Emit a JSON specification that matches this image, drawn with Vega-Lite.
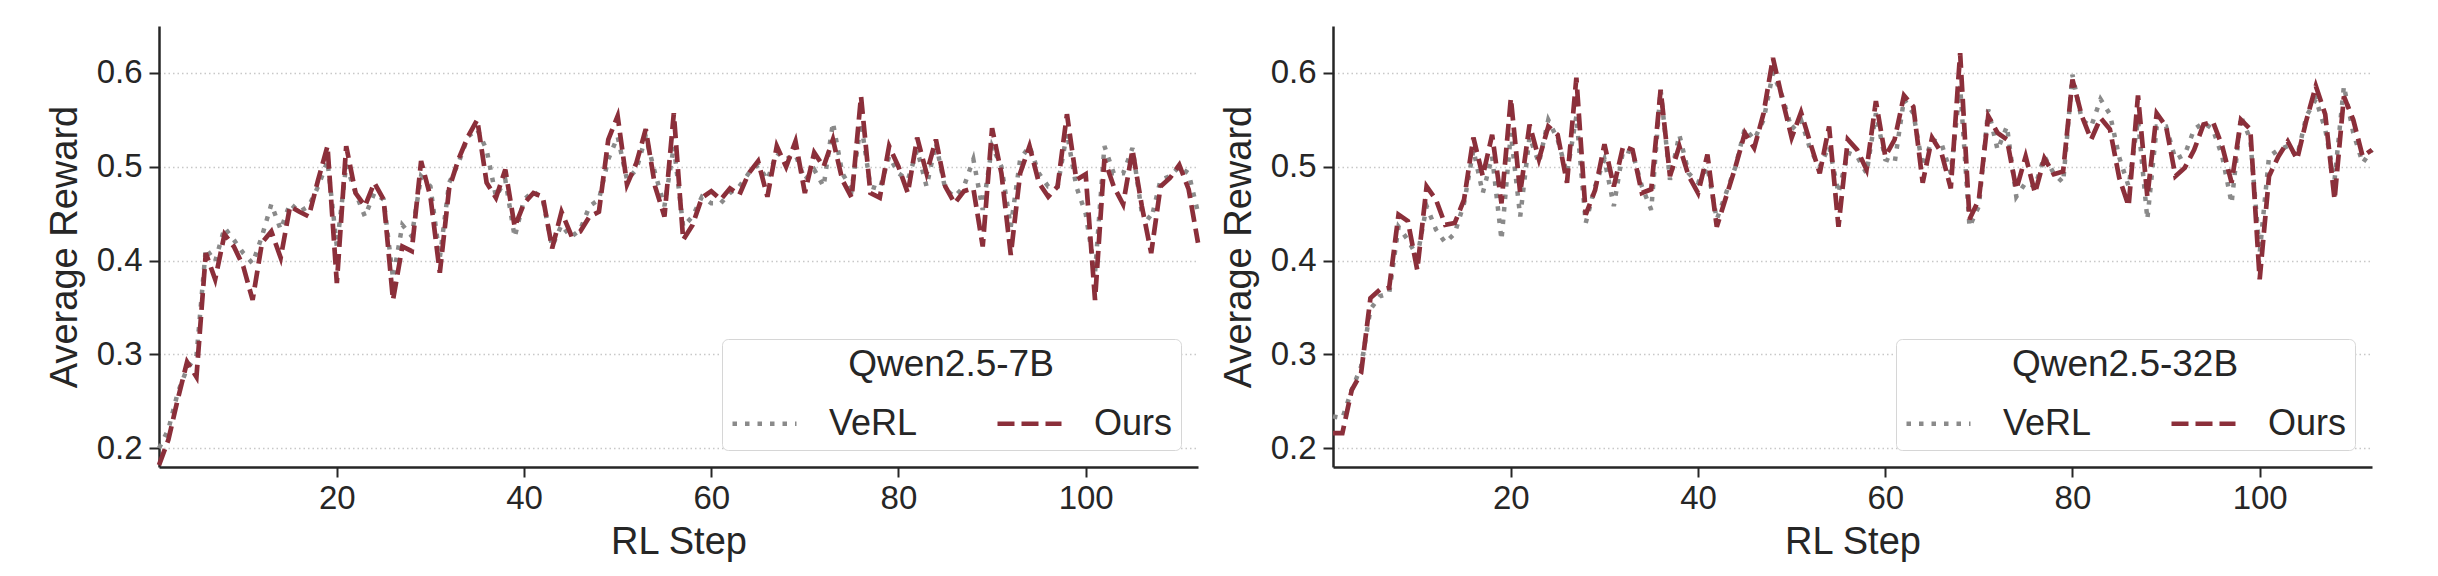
{
  "$schema": "https://vega.github.io/schema/vega-lite/v6.json",
  "background": "white",
  "padding": {"left": 46, "top": 26, "right": 5, "bottom": 5},
  "config": {
    "font": "Liberation Sans",
    "view": {"stroke": null},
    "axis": {
      "domainColor": "#262626", "domainWidth": 2.5,
      "tickColor": "#262626", "tickWidth": 2, "tickSize": 10,
      "labelFont": "Liberation Sans", "labelFontSize": 33, "labelColor": "#262626",
      "titleFont": "Liberation Sans", "titleFontSize": 38, "titleFontWeight": "normal", "titleColor": "#262626",
      "gridColor": "#c8c8c8", "gridDash": [1.5, 3], "gridWidth": 1.3
    },
    "axisY": {"titlePadding": 12, "labelPadding": 7},
    "axisX": {"titlePadding": 8, "labelPadding": 5},
    "legend": {
      "orient": "bottom-right", "offset": 17, "direction": "horizontal", "columns": 2,
      "titleFont": "Liberation Sans", "titleFontSize": 37, "titleFontWeight": "normal", "titleColor": "#262626",
      "titleAnchor": "middle", "titlePadding": 5, "titleLimit": 1000,
      "labelFont": "Liberation Sans", "labelFontSize": 36, "labelColor": "#262626", "labelOffset": 30,
      "symbolType": "stroke", "symbolSize": 4096, "symbolStrokeWidth": 4.5,
      "columnPadding": 70, "padding": 8,
      "strokeColor": "#d6d6d6", "fillColor": "white", "cornerRadius": 6
    }
  },
  "datasets": {
    "qwen7b": [
      {"step":1,"method":"VeRL","reward":0.2},{"step":2,"method":"VeRL","reward":0.22},{"step":3,"method":"VeRL","reward":0.259},{"step":4,"method":"VeRL","reward":0.285},{"step":5,"method":"VeRL","reward":0.298},{"step":6,"method":"VeRL","reward":0.413},{"step":7,"method":"VeRL","reward":0.399},{"step":8,"method":"VeRL","reward":0.435},{"step":9,"method":"VeRL","reward":0.422},{"step":10,"method":"VeRL","reward":0.408},
      {"step":11,"method":"VeRL","reward":0.397},{"step":12,"method":"VeRL","reward":0.426},{"step":13,"method":"VeRL","reward":0.46},{"step":14,"method":"VeRL","reward":0.433},{"step":15,"method":"VeRL","reward":0.461},{"step":16,"method":"VeRL","reward":0.452},{"step":17,"method":"VeRL","reward":0.458},{"step":18,"method":"VeRL","reward":0.479},{"step":19,"method":"VeRL","reward":0.506},{"step":20,"method":"VeRL","reward":0.415},
      {"step":21,"method":"VeRL","reward":0.502},{"step":22,"method":"VeRL","reward":0.472},{"step":23,"method":"VeRL","reward":0.447},{"step":24,"method":"VeRL","reward":0.472},{"step":25,"method":"VeRL","reward":0.465},{"step":26,"method":"VeRL","reward":0.381},{"step":27,"method":"VeRL","reward":0.438},{"step":28,"method":"VeRL","reward":0.426},{"step":29,"method":"VeRL","reward":0.49},{"step":30,"method":"VeRL","reward":0.479},
      {"step":31,"method":"VeRL","reward":0.403},{"step":32,"method":"VeRL","reward":0.483},{"step":33,"method":"VeRL","reward":0.504},{"step":34,"method":"VeRL","reward":0.532},{"step":35,"method":"VeRL","reward":0.54},{"step":36,"method":"VeRL","reward":0.518},{"step":37,"method":"VeRL","reward":0.468},{"step":38,"method":"VeRL","reward":0.486},{"step":39,"method":"VeRL","reward":0.425},{"step":40,"method":"VeRL","reward":0.465},
      {"step":41,"method":"VeRL","reward":0.474},{"step":42,"method":"VeRL","reward":0.465},{"step":43,"method":"VeRL","reward":0.415},{"step":44,"method":"VeRL","reward":0.438},{"step":45,"method":"VeRL","reward":0.425},{"step":46,"method":"VeRL","reward":0.433},{"step":47,"method":"VeRL","reward":0.458},{"step":48,"method":"VeRL","reward":0.465},{"step":49,"method":"VeRL","reward":0.508},{"step":50,"method":"VeRL","reward":0.532},
      {"step":51,"method":"VeRL","reward":0.486},{"step":52,"method":"VeRL","reward":0.497},{"step":53,"method":"VeRL","reward":0.532},{"step":54,"method":"VeRL","reward":0.493},{"step":55,"method":"VeRL","reward":0.458},{"step":56,"method":"VeRL","reward":0.522},{"step":57,"method":"VeRL","reward":0.436},{"step":58,"method":"VeRL","reward":0.447},{"step":59,"method":"VeRL","reward":0.468},{"step":60,"method":"VeRL","reward":0.461},
      {"step":61,"method":"VeRL","reward":0.461},{"step":62,"method":"VeRL","reward":0.472},{"step":63,"method":"VeRL","reward":0.479},{"step":64,"method":"VeRL","reward":0.493},{"step":65,"method":"VeRL","reward":0.502},{"step":66,"method":"VeRL","reward":0.486},{"step":67,"method":"VeRL","reward":0.515},{"step":68,"method":"VeRL","reward":0.508},{"step":69,"method":"VeRL","reward":0.513},{"step":70,"method":"VeRL","reward":0.486},
      {"step":71,"method":"VeRL","reward":0.497},{"step":72,"method":"VeRL","reward":0.479},{"step":73,"method":"VeRL","reward":0.547},{"step":74,"method":"VeRL","reward":0.493},{"step":75,"method":"VeRL","reward":0.476},{"step":76,"method":"VeRL","reward":0.547},{"step":77,"method":"VeRL","reward":0.479},{"step":78,"method":"VeRL","reward":0.476},{"step":79,"method":"VeRL","reward":0.511},{"step":80,"method":"VeRL","reward":0.493},
      {"step":81,"method":"VeRL","reward":0.486},{"step":82,"method":"VeRL","reward":0.518},{"step":83,"method":"VeRL","reward":0.479},{"step":84,"method":"VeRL","reward":0.525},{"step":85,"method":"VeRL","reward":0.476},{"step":86,"method":"VeRL","reward":0.468},{"step":87,"method":"VeRL","reward":0.479},{"step":88,"method":"VeRL","reward":0.508},{"step":89,"method":"VeRL","reward":0.454},{"step":90,"method":"VeRL","reward":0.522},
      {"step":91,"method":"VeRL","reward":0.5},{"step":92,"method":"VeRL","reward":0.436},{"step":93,"method":"VeRL","reward":0.508},{"step":94,"method":"VeRL","reward":0.522},{"step":95,"method":"VeRL","reward":0.493},{"step":96,"method":"VeRL","reward":0.479},{"step":97,"method":"VeRL","reward":0.479},{"step":98,"method":"VeRL","reward":0.536},{"step":99,"method":"VeRL","reward":0.479},{"step":100,"method":"VeRL","reward":0.45},
      {"step":101,"method":"VeRL","reward":0.387},{"step":102,"method":"VeRL","reward":0.522},{"step":103,"method":"VeRL","reward":0.493},{"step":104,"method":"VeRL","reward":0.493},{"step":105,"method":"VeRL","reward":0.52},{"step":106,"method":"VeRL","reward":0.451},{"step":107,"method":"VeRL","reward":0.444},{"step":108,"method":"VeRL","reward":0.486},{"step":109,"method":"VeRL","reward":0.49},{"step":110,"method":"VeRL","reward":0.5},
      {"step":111,"method":"VeRL","reward":0.493},{"step":112,"method":"VeRL","reward":0.451},
      {"step":1,"method":"Ours","reward":0.182},{"step":2,"method":"Ours","reward":0.209},{"step":3,"method":"Ours","reward":0.252},{"step":4,"method":"Ours","reward":0.292},{"step":5,"method":"Ours","reward":0.276},{"step":6,"method":"Ours","reward":0.408},{"step":7,"method":"Ours","reward":0.38},{"step":8,"method":"Ours","reward":0.428},{"step":9,"method":"Ours","reward":0.415},{"step":10,"method":"Ours","reward":0.394},
      {"step":11,"method":"Ours","reward":0.358},{"step":12,"method":"Ours","reward":0.419},{"step":13,"method":"Ours","reward":0.431},{"step":14,"method":"Ours","reward":0.403},{"step":15,"method":"Ours","reward":0.458},{"step":16,"method":"Ours","reward":0.452},{"step":17,"method":"Ours","reward":0.447},{"step":18,"method":"Ours","reward":0.486},{"step":19,"method":"Ours","reward":0.522},{"step":20,"method":"Ours","reward":0.376},
      {"step":21,"method":"Ours","reward":0.522},{"step":22,"method":"Ours","reward":0.472},{"step":23,"method":"Ours","reward":0.458},{"step":24,"method":"Ours","reward":0.483},{"step":25,"method":"Ours","reward":0.465},{"step":26,"method":"Ours","reward":0.358},{"step":27,"method":"Ours","reward":0.415},{"step":28,"method":"Ours","reward":0.41},{"step":29,"method":"Ours","reward":0.506},{"step":30,"method":"Ours","reward":0.468},
      {"step":31,"method":"Ours","reward":0.387},{"step":32,"method":"Ours","reward":0.477},{"step":33,"method":"Ours","reward":0.508},{"step":34,"method":"Ours","reward":0.532},{"step":35,"method":"Ours","reward":0.55},{"step":36,"method":"Ours","reward":0.483},{"step":37,"method":"Ours","reward":0.467},{"step":38,"method":"Ours","reward":0.497},{"step":39,"method":"Ours","reward":0.436},{"step":40,"method":"Ours","reward":0.461},
      {"step":41,"method":"Ours","reward":0.472},{"step":42,"method":"Ours","reward":0.468},{"step":43,"method":"Ours","reward":0.413},{"step":44,"method":"Ours","reward":0.452},{"step":45,"method":"Ours","reward":0.428},{"step":46,"method":"Ours","reward":0.431},{"step":47,"method":"Ours","reward":0.447},{"step":48,"method":"Ours","reward":0.452},{"step":49,"method":"Ours","reward":0.529},{"step":50,"method":"Ours","reward":0.554},
      {"step":51,"method":"Ours","reward":0.481},{"step":52,"method":"Ours","reward":0.504},{"step":53,"method":"Ours","reward":0.54},{"step":54,"method":"Ours","reward":0.479},{"step":55,"method":"Ours","reward":0.447},{"step":56,"method":"Ours","reward":0.557},{"step":57,"method":"Ours","reward":0.422},{"step":58,"method":"Ours","reward":0.438},{"step":59,"method":"Ours","reward":0.467},{"step":60,"method":"Ours","reward":0.474},
      {"step":61,"method":"Ours","reward":0.465},{"step":62,"method":"Ours","reward":0.477},{"step":63,"method":"Ours","reward":0.47},{"step":64,"method":"Ours","reward":0.493},{"step":65,"method":"Ours","reward":0.506},{"step":66,"method":"Ours","reward":0.468},{"step":67,"method":"Ours","reward":0.522},{"step":68,"method":"Ours","reward":0.5},{"step":69,"method":"Ours","reward":0.527},{"step":70,"method":"Ours","reward":0.472},
      {"step":71,"method":"Ours","reward":0.515},{"step":72,"method":"Ours","reward":0.5},{"step":73,"method":"Ours","reward":0.529},{"step":74,"method":"Ours","reward":0.486},{"step":75,"method":"Ours","reward":0.467},{"step":76,"method":"Ours","reward":0.575},{"step":77,"method":"Ours","reward":0.472},{"step":78,"method":"Ours","reward":0.467},{"step":79,"method":"Ours","reward":0.522},{"step":80,"method":"Ours","reward":0.5},
      {"step":81,"method":"Ours","reward":0.472},{"step":82,"method":"Ours","reward":0.531},{"step":83,"method":"Ours","reward":0.493},{"step":84,"method":"Ours","reward":0.529},{"step":85,"method":"Ours","reward":0.479},{"step":86,"method":"Ours","reward":0.461},{"step":87,"method":"Ours","reward":0.474},{"step":88,"method":"Ours","reward":0.477},{"step":89,"method":"Ours","reward":0.415},{"step":90,"method":"Ours","reward":0.541},
      {"step":91,"method":"Ours","reward":0.493},{"step":92,"method":"Ours","reward":0.406},{"step":93,"method":"Ours","reward":0.493},{"step":94,"method":"Ours","reward":0.522},{"step":95,"method":"Ours","reward":0.483},{"step":96,"method":"Ours","reward":0.468},{"step":97,"method":"Ours","reward":0.479},{"step":98,"method":"Ours","reward":0.556},{"step":99,"method":"Ours","reward":0.486},{"step":100,"method":"Ours","reward":0.492},
      {"step":101,"method":"Ours","reward":0.358},{"step":102,"method":"Ours","reward":0.508},{"step":103,"method":"Ours","reward":0.479},{"step":104,"method":"Ours","reward":0.46},{"step":105,"method":"Ours","reward":0.518},{"step":106,"method":"Ours","reward":0.458},{"step":107,"method":"Ours","reward":0.408},{"step":108,"method":"Ours","reward":0.479},{"step":109,"method":"Ours","reward":0.488},{"step":110,"method":"Ours","reward":0.502},
      {"step":111,"method":"Ours","reward":0.476},{"step":112,"method":"Ours","reward":0.419}
    ],
    "qwen32b": [
      {"step":1,"method":"VeRL","reward":0.234},{"step":2,"method":"VeRL","reward":0.232},{"step":3,"method":"VeRL","reward":0.262},{"step":4,"method":"VeRL","reward":0.287},{"step":5,"method":"VeRL","reward":0.348},{"step":6,"method":"VeRL","reward":0.362},{"step":7,"method":"VeRL","reward":0.365},{"step":8,"method":"VeRL","reward":0.436},{"step":9,"method":"VeRL","reward":0.422},{"step":10,"method":"VeRL","reward":0.404},
      {"step":11,"method":"VeRL","reward":0.458},{"step":12,"method":"VeRL","reward":0.433},{"step":13,"method":"VeRL","reward":0.419},{"step":14,"method":"VeRL","reward":0.429},{"step":15,"method":"VeRL","reward":0.461},{"step":16,"method":"VeRL","reward":0.518},{"step":17,"method":"VeRL","reward":0.472},{"step":18,"method":"VeRL","reward":0.511},{"step":19,"method":"VeRL","reward":0.422},{"step":20,"method":"VeRL","reward":0.536},
      {"step":21,"method":"VeRL","reward":0.447},{"step":22,"method":"VeRL","reward":0.532},{"step":23,"method":"VeRL","reward":0.504},{"step":24,"method":"VeRL","reward":0.55},{"step":25,"method":"VeRL","reward":0.529},{"step":26,"method":"VeRL","reward":0.493},{"step":27,"method":"VeRL","reward":0.554},{"step":28,"method":"VeRL","reward":0.44},{"step":29,"method":"VeRL","reward":0.479},{"step":30,"method":"VeRL","reward":0.508},
      {"step":31,"method":"VeRL","reward":0.458},{"step":32,"method":"VeRL","reward":0.518},{"step":33,"method":"VeRL","reward":0.515},{"step":34,"method":"VeRL","reward":0.479},{"step":35,"method":"VeRL","reward":0.454},{"step":36,"method":"VeRL","reward":0.582},{"step":37,"method":"VeRL","reward":0.486},{"step":38,"method":"VeRL","reward":0.534},{"step":39,"method":"VeRL","reward":0.493},{"step":40,"method":"VeRL","reward":0.483},
      {"step":41,"method":"VeRL","reward":0.5},{"step":42,"method":"VeRL","reward":0.444},{"step":43,"method":"VeRL","reward":0.472},{"step":44,"method":"VeRL","reward":0.5},{"step":45,"method":"VeRL","reward":0.541},{"step":46,"method":"VeRL","reward":0.529},{"step":47,"method":"VeRL","reward":0.55},{"step":48,"method":"VeRL","reward":0.6},{"step":49,"method":"VeRL","reward":0.575},{"step":50,"method":"VeRL","reward":0.54},
      {"step":51,"method":"VeRL","reward":0.55},{"step":52,"method":"VeRL","reward":0.518},{"step":53,"method":"VeRL","reward":0.5},{"step":54,"method":"VeRL","reward":0.522},{"step":55,"method":"VeRL","reward":0.472},{"step":56,"method":"VeRL","reward":0.515},{"step":57,"method":"VeRL","reward":0.511},{"step":58,"method":"VeRL","reward":0.493},{"step":59,"method":"VeRL","reward":0.557},{"step":60,"method":"VeRL","reward":0.508},
      {"step":61,"method":"VeRL","reward":0.504},{"step":62,"method":"VeRL","reward":0.572},{"step":63,"method":"VeRL","reward":0.557},{"step":64,"method":"VeRL","reward":0.5},{"step":65,"method":"VeRL","reward":0.529},{"step":66,"method":"VeRL","reward":0.525},{"step":67,"method":"VeRL","reward":0.493},{"step":68,"method":"VeRL","reward":0.586},{"step":69,"method":"VeRL","reward":0.436},{"step":70,"method":"VeRL","reward":0.458},
      {"step":71,"method":"VeRL","reward":0.561},{"step":72,"method":"VeRL","reward":0.518},{"step":73,"method":"VeRL","reward":0.543},{"step":74,"method":"VeRL","reward":0.468},{"step":75,"method":"VeRL","reward":0.483},{"step":76,"method":"VeRL","reward":0.479},{"step":77,"method":"VeRL","reward":0.511},{"step":78,"method":"VeRL","reward":0.493},{"step":79,"method":"VeRL","reward":0.483},{"step":80,"method":"VeRL","reward":0.598},
      {"step":81,"method":"VeRL","reward":0.55},{"step":82,"method":"VeRL","reward":0.543},{"step":83,"method":"VeRL","reward":0.572},{"step":84,"method":"VeRL","reward":0.556},{"step":85,"method":"VeRL","reward":0.51},{"step":86,"method":"VeRL","reward":0.479},{"step":87,"method":"VeRL","reward":0.55},{"step":88,"method":"VeRL","reward":0.444},{"step":89,"method":"VeRL","reward":0.543},{"step":90,"method":"VeRL","reward":0.543},
      {"step":91,"method":"VeRL","reward":0.508},{"step":92,"method":"VeRL","reward":0.513},{"step":93,"method":"VeRL","reward":0.54},{"step":94,"method":"VeRL","reward":0.547},{"step":95,"method":"VeRL","reward":0.54},{"step":96,"method":"VeRL","reward":0.511},{"step":97,"method":"VeRL","reward":0.461},{"step":98,"method":"VeRL","reward":0.554},{"step":99,"method":"VeRL","reward":0.529},{"step":100,"method":"VeRL","reward":0.408},
      {"step":101,"method":"VeRL","reward":0.511},{"step":102,"method":"VeRL","reward":0.518},{"step":103,"method":"VeRL","reward":0.522},{"step":104,"method":"VeRL","reward":0.511},{"step":105,"method":"VeRL","reward":0.554},{"step":106,"method":"VeRL","reward":0.572},{"step":107,"method":"VeRL","reward":0.54},{"step":108,"method":"VeRL","reward":0.486},{"step":109,"method":"VeRL","reward":0.586},{"step":110,"method":"VeRL","reward":0.536},
      {"step":111,"method":"VeRL","reward":0.504},{"step":112,"method":"VeRL","reward":0.518},
      {"step":1,"method":"Ours","reward":0.216},{"step":2,"method":"Ours","reward":0.216},{"step":3,"method":"Ours","reward":0.262},{"step":4,"method":"Ours","reward":0.28},{"step":5,"method":"Ours","reward":0.36},{"step":6,"method":"Ours","reward":0.369},{"step":7,"method":"Ours","reward":0.371},{"step":8,"method":"Ours","reward":0.449},{"step":9,"method":"Ours","reward":0.442},{"step":10,"method":"Ours","reward":0.39},
      {"step":11,"method":"Ours","reward":0.479},{"step":12,"method":"Ours","reward":0.465},{"step":13,"method":"Ours","reward":0.438},{"step":14,"method":"Ours","reward":0.44},{"step":15,"method":"Ours","reward":0.465},{"step":16,"method":"Ours","reward":0.531},{"step":17,"method":"Ours","reward":0.49},{"step":18,"method":"Ours","reward":0.534},{"step":19,"method":"Ours","reward":0.461},{"step":20,"method":"Ours","reward":0.573},
      {"step":21,"method":"Ours","reward":0.472},{"step":22,"method":"Ours","reward":0.545},{"step":23,"method":"Ours","reward":0.508},{"step":24,"method":"Ours","reward":0.543},{"step":25,"method":"Ours","reward":0.534},{"step":26,"method":"Ours","reward":0.483},{"step":27,"method":"Ours","reward":0.595},{"step":28,"method":"Ours","reward":0.449},{"step":29,"method":"Ours","reward":0.475},{"step":30,"method":"Ours","reward":0.524},
      {"step":31,"method":"Ours","reward":0.479},{"step":32,"method":"Ours","reward":0.522},{"step":33,"method":"Ours","reward":0.518},{"step":34,"method":"Ours","reward":0.472},{"step":35,"method":"Ours","reward":0.476},{"step":36,"method":"Ours","reward":0.582},{"step":37,"method":"Ours","reward":0.49},{"step":38,"method":"Ours","reward":0.522},{"step":39,"method":"Ours","reward":0.49},{"step":40,"method":"Ours","reward":0.472},
      {"step":41,"method":"Ours","reward":0.513},{"step":42,"method":"Ours","reward":0.436},{"step":43,"method":"Ours","reward":0.468},{"step":44,"method":"Ours","reward":0.5},{"step":45,"method":"Ours","reward":0.536},{"step":46,"method":"Ours","reward":0.52},{"step":47,"method":"Ours","reward":0.557},{"step":48,"method":"Ours","reward":0.616},{"step":49,"method":"Ours","reward":0.572},{"step":50,"method":"Ours","reward":0.531},
      {"step":51,"method":"Ours","reward":0.558},{"step":52,"method":"Ours","reward":0.525},{"step":53,"method":"Ours","reward":0.493},{"step":54,"method":"Ours","reward":0.543},{"step":55,"method":"Ours","reward":0.436},{"step":56,"method":"Ours","reward":0.529},{"step":57,"method":"Ours","reward":0.518},{"step":58,"method":"Ours","reward":0.497},{"step":59,"method":"Ours","reward":0.57},{"step":60,"method":"Ours","reward":0.511},
      {"step":61,"method":"Ours","reward":0.529},{"step":62,"method":"Ours","reward":0.576},{"step":63,"method":"Ours","reward":0.564},{"step":64,"method":"Ours","reward":0.483},{"step":65,"method":"Ours","reward":0.531},{"step":66,"method":"Ours","reward":0.515},{"step":67,"method":"Ours","reward":0.477},{"step":68,"method":"Ours","reward":0.621},{"step":69,"method":"Ours","reward":0.444},{"step":70,"method":"Ours","reward":0.465},
      {"step":71,"method":"Ours","reward":0.554},{"step":72,"method":"Ours","reward":0.536},{"step":73,"method":"Ours","reward":0.529},{"step":74,"method":"Ours","reward":0.476},{"step":75,"method":"Ours","reward":0.511},{"step":76,"method":"Ours","reward":0.472},{"step":77,"method":"Ours","reward":0.509},{"step":78,"method":"Ours","reward":0.492},{"step":79,"method":"Ours","reward":0.495},{"step":80,"method":"Ours","reward":0.593},
      {"step":81,"method":"Ours","reward":0.554},{"step":82,"method":"Ours","reward":0.529},{"step":83,"method":"Ours","reward":0.552},{"step":84,"method":"Ours","reward":0.54},{"step":85,"method":"Ours","reward":0.488},{"step":86,"method":"Ours","reward":0.458},{"step":87,"method":"Ours","reward":0.576},{"step":88,"method":"Ours","reward":0.468},{"step":89,"method":"Ours","reward":0.557},{"step":90,"method":"Ours","reward":0.543},
      {"step":91,"method":"Ours","reward":0.49},{"step":92,"method":"Ours","reward":0.499},{"step":93,"method":"Ours","reward":0.518},{"step":94,"method":"Ours","reward":0.545},{"step":95,"method":"Ours","reward":0.548},{"step":96,"method":"Ours","reward":0.522},{"step":97,"method":"Ours","reward":0.483},{"step":98,"method":"Ours","reward":0.55},{"step":99,"method":"Ours","reward":0.54},{"step":100,"method":"Ours","reward":0.38},
      {"step":101,"method":"Ours","reward":0.49},{"step":102,"method":"Ours","reward":0.511},{"step":103,"method":"Ours","reward":0.527},{"step":104,"method":"Ours","reward":0.508},{"step":105,"method":"Ours","reward":0.55},{"step":106,"method":"Ours","reward":0.586},{"step":107,"method":"Ours","reward":0.556},{"step":108,"method":"Ours","reward":0.465},{"step":109,"method":"Ours","reward":0.575},{"step":110,"method":"Ours","reward":0.55},
      {"step":111,"method":"Ours","reward":0.511},{"step":112,"method":"Ours","reward":0.518}
    ]
  },
  "spacing": 12,
  "resolve": {
    "scale": {"color": "independent", "strokeDash": "independent"},
    "legend": {"color": "independent", "strokeDash": "independent"}
  },
  "hconcat": [
    {
      "width": 1039,
      "height": 441,
      "data": {"name": "qwen7b"},
      "encoding": {
        "x": {"field": "step", "type": "quantitative", "scale": {"domain": [1, 112], "nice": false, "zero": false}, "axis": {"title": "RL Step", "values": [20, 40, 60, 80, 100], "grid": false}},
        "y": {"field": "reward", "type": "quantitative", "scale": {"domain": [0.18, 0.65], "nice": false, "zero": false}, "axis": {"title": "Average Reward", "values": [0.2, 0.3, 0.4, 0.5, 0.6], "format": ".1f", "grid": true}},
        "color": {"field": "method", "type": "nominal", "title": "Qwen2.5-7B", "scale": {"domain": ["VeRL", "Ours"], "range": ["#8a8a8a", "#8b2f3a"]}},
        "strokeDash": {"field": "method", "type": "nominal", "title": "Qwen2.5-7B", "scale": {"domain": ["VeRL", "Ours"], "range": [[4.5, 8], [17, 7]]}}
      },
      "layer": [
        {"transform": [{"filter": "datum.method === 'VeRL'"}], "mark": {"type": "line", "strokeWidth": 4.5}},
        {"transform": [{"filter": "datum.method === 'Ours'"}], "mark": {"type": "line", "strokeWidth": 4.7}}
      ]
    },
    {
      "width": 1039,
      "height": 441,
      "data": {"name": "qwen32b"},
      "encoding": {
        "x": {"field": "step", "type": "quantitative", "scale": {"domain": [1, 112], "nice": false, "zero": false}, "axis": {"title": "RL Step", "values": [20, 40, 60, 80, 100], "grid": false}},
        "y": {"field": "reward", "type": "quantitative", "scale": {"domain": [0.18, 0.65], "nice": false, "zero": false}, "axis": {"title": "Average Reward", "values": [0.2, 0.3, 0.4, 0.5, 0.6], "format": ".1f", "grid": true}},
        "color": {"field": "method", "type": "nominal", "title": "Qwen2.5-32B", "scale": {"domain": ["VeRL", "Ours"], "range": ["#8a8a8a", "#8b2f3a"]}},
        "strokeDash": {"field": "method", "type": "nominal", "title": "Qwen2.5-32B", "scale": {"domain": ["VeRL", "Ours"], "range": [[4.5, 8], [17, 7]]}}
      },
      "layer": [
        {"transform": [{"filter": "datum.method === 'VeRL'"}], "mark": {"type": "line", "strokeWidth": 4.5}},
        {"transform": [{"filter": "datum.method === 'Ours'"}], "mark": {"type": "line", "strokeWidth": 4.7}}
      ]
    }
  ]
}
